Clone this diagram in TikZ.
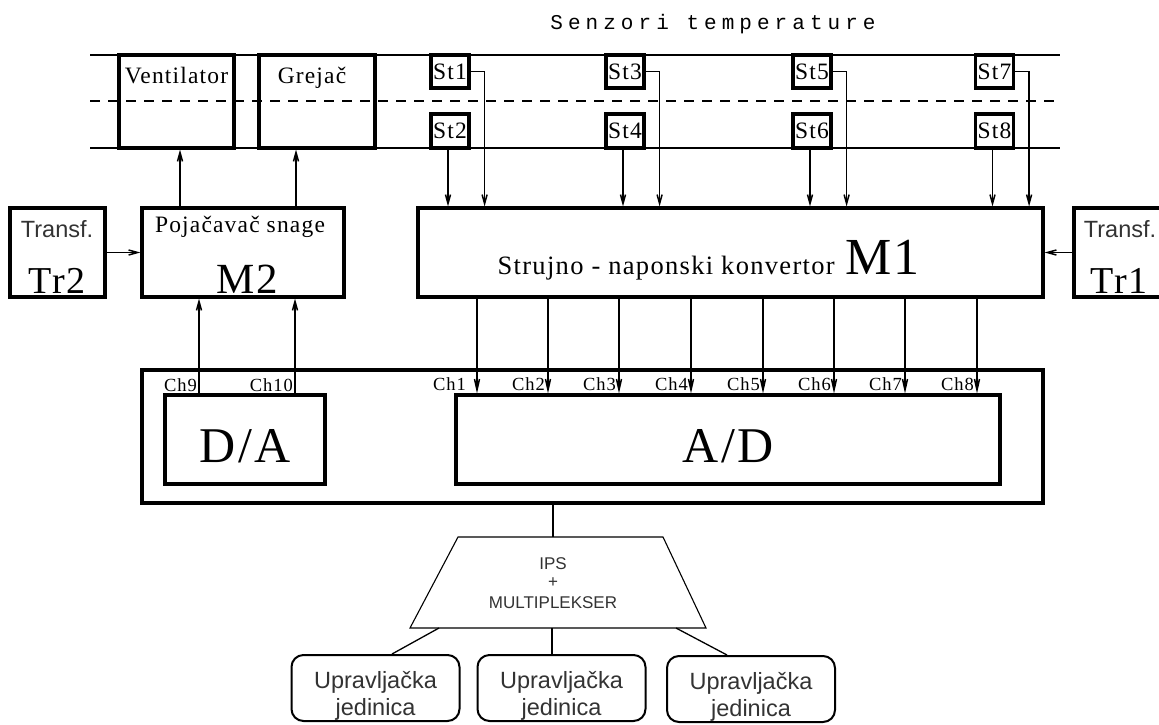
\documentclass[tikz,border=0pt]{standalone}
\usepackage{fontspec}
\setmainfont{Liberation Serif}[LetterSpace=5]
\setsansfont{Liberation Sans}
\newfontfamily\titlefont{Liberation Mono}[LetterSpace=24]
\usetikzlibrary{arrows.meta}
\begin{document}
\begin{tikzpicture}[x=1pt,y=-1pt,
  blk/.style={draw, line width=3.2pt, inner sep=0pt},
  ubox/.style={draw, line width=2pt, rounded corners=12pt, inner sep=0pt, minimum width=168pt, minimum height=66pt},
  rail/.style={line width=1.1pt},
  sig/.style={line width=1.5pt, -{Straight Barb[length=9pt,width=5pt]}},
  wire/.style={line width=1.3pt},
  ser/.style={font=\fontsize{23.5}{25}\selectfont, inner sep=0pt},
  chlab/.style={font=\fontsize{18.5}{20}\selectfont, inner sep=0pt, anchor=base east},
  snsans/.style={font=\sffamily\fontsize{23.5}{25}\selectfont, inner sep=0pt, text=black!80},
  mux/.style={font=\sffamily\fontsize{17}{19}\selectfont, inner sep=0pt, text=black!80, anchor=base}
]
\useasboundingbox (0,0) rectangle (1159,724);
\fill[white] (0,0) rectangle (1159,724);

% title
\node[font=\titlefont\fontsize{21}{23}\selectfont, inner sep=0pt, anchor=base] (title) at (713,29) {Senzori temperature};

% rails
\draw[rail] (90,55) -- (1060,55);
\draw[rail, dash pattern=on 10pt off 8pt] (90,101) -- (1060,101);
\draw[rail] (90,148) -- (1060,148);

% actuators
\node[blk, minimum width=115pt, minimum height=93pt] (vent) at (176.5,101.5) {};
\node[ser, anchor=base] (ventT) at (176.5,83) {Ventilator};
\node[blk, minimum width=116pt, minimum height=93pt] (grej) at (317,101.5) {};
\node[ser, anchor=base] (grejT) at (312,83) {Greja\v{c}};

% sensors
\foreach \n/\m/\x in {1/2/450,3/4/625,5/6/812,7/8/994.5}{
  \node[blk, minimum width=38pt, minimum height=33pt, ser] (St\n) at (\x,71.5) {St\n};
  \node[blk, minimum width=38pt, minimum height=34pt, ser] (St\m) at (\x,131) {St\m};
}

% M1, transformers, M2
\node[blk, minimum width=625pt, minimum height=89pt] (M1) at (730.5,252.5) {};
\node[font=\fontsize{26.5}{28}\selectfont, inner sep=0pt, anchor=base east] (M1t) at (835,274) {Strujno - naponski konvertor};
\node[font=\fontsize{52}{54}\selectfont, inner sep=0pt, anchor=base west] (M1n) at (845,274) {M1};

\node[blk, minimum width=91pt, minimum height=89pt] (Tr1) at (1119.5,252.5) {};
\node[snsans, anchor=base] (Tr1a) at (1120,237) {Transf.};
\node[font=\fontsize{38}{40}\selectfont, inner sep=0pt, anchor=base] (Tr1b) at (1119,293) {Tr1};

\node[blk, minimum width=95pt, minimum height=89pt] (Tr2) at (57.5,252.5) {};
\node[snsans, anchor=base] (Tr2a) at (57,237) {Transf.};
\node[font=\fontsize{38}{40}\selectfont, inner sep=0pt, anchor=base] (Tr2b) at (57,293) {Tr2};

\node[blk, minimum width=202pt, minimum height=89pt] (M2) at (243,252.5) {};
\node[ser, anchor=base] (M2a) at (240,232) {Poja\v{c}ava\v{c} snage};
\node[font=\fontsize{43}{45}\selectfont, inner sep=0pt, anchor=base] (M2b) at (247,293) {M2};

% acquisition block
\node[blk, minimum width=901pt, minimum height=133pt] (daq) at (592.5,436.5) {};
\node[blk, minimum width=160pt, minimum height=89pt] (DA) at (245,439.5) {};
\node[font=\fontsize{50}{52}\selectfont, inner sep=0pt, anchor=base] (DAt) at (245,462) {D/A};
\node[blk, minimum width=544pt, minimum height=89pt] (AD) at (728,439.5) {};
\node[font=\fontsize{50}{52}\selectfont, inner sep=0pt, anchor=base] (ADt) at (728,462) {A/D};

% sensor to M1
\foreach \n in {1,3,5,7}{
  \draw[sig] (St\n.east) -| ([xshift=14pt]St\n.east |- M1.north);
}
\foreach \n in {2,4,6,8}{
  \draw[sig] ([xshift=-2pt]St\n.south) -- ([xshift=-2pt]St\n.south |- M1.north);
}

% transformers
\draw[sig] (Tr2.east) -- (M2.west);
\draw[sig] (Tr1.west) -- (M1.east);

% M2 to actuators
\draw[sig] (M2.north -| 180,0) -- (vent.south -| 180,0);
\draw[sig] (M2.north -| 296,0) -- (grej.south -| 296,0);

% D/A to M2
\draw[sig] (DA.north -| 199,0) -- (M2.south -| 199,0);
\draw[sig] (DA.north -| 295,0) -- (M2.south -| 295,0);
\node[chlab] (ch9) at (197,391) {Ch9};
\node[chlab] (ch10) at (293,391) {Ch10};

% M1 to A/D
\foreach \i/\x in {1/477,2/548,3/619,4/691,5/763,6/834,7/905,8/977}{
  \coordinate (c\i) at (\x,0);
  \draw[sig, -{Straight Barb[length=11pt,width=5pt]}] (M1.south -| c\i) -- (AD.north -| c\i);
}
\node[chlab] (l1) at (466,390) {Ch1};
\foreach \i/\x in {2/548,3/619,4/691,5/763,6/834,7/905,8/977}{
  \node[chlab] (l\i) at (\x-3,390) {Ch\i};
}

% multiplexer
\coordinate (trT) at (553,537);
\coordinate (trL) at (439,628);
\coordinate (trM) at (552,628);
\coordinate (trR) at (676,628);
\draw[line width=1.1pt] (458,537) -- (663,537) -- (706,628) -- (410,628) -- cycle;
\node[mux] (ips) at (553,569) {IPS};
\node[mux] (plus) at (553,587) {+};
\node[mux] (mpx) at (553,608) {MULTIPLEKSER};
\draw[wire] (daq.south -| trT) -- (trT);

% control units
\node[ubox] (U1) at (375.5,688) {};
\node[ubox] (U2) at (561.5,688) {};
\node[ubox] (U3) at (751,689) {};
\foreach \u in {1,2,3}{
  \node[snsans, anchor=base] (U\u a) at (U\u.center) {Upravlja\v{c}ka};
  \node[snsans, anchor=base] (U\u b) at ([yshift=-27pt]U\u.center) {jedinica};
}
\draw[wire] (trL) -- (392,0 |- U1.north);
\draw[wire] (trM) -- (trM |- U2.north);
\draw[wire] (trR) -- (727,0 |- U3.north);
\end{tikzpicture}
\end{document}
